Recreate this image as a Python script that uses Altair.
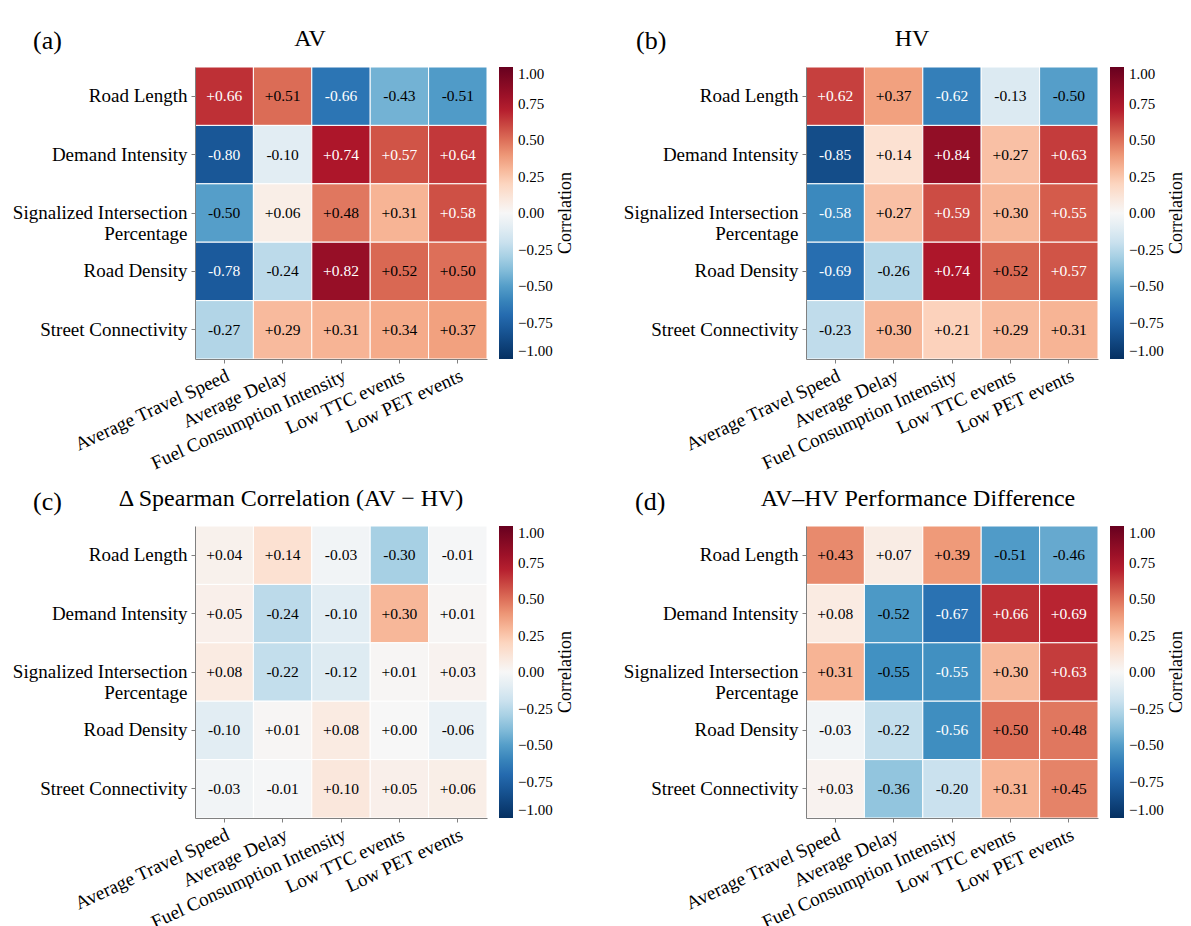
import altair as alt
import pandas as pd

FONT = "Liberation Serif"

# Row (network feature) and column (performance metric) labels
rows = [
    "Road Length",
    "Demand Intensity",
    "Signalized Intersection\nPercentage",
    "Road Density",
    "Street Connectivity",
]
cols = [
    "Average Travel Speed",
    "Average Delay",
    "Fuel Consumption Intensity",
    "Low TTC events",
    "Low PET events",
]

# Spearman correlations, one list per row
av_corr = [
    [0.66, 0.51, -0.66, -0.43, -0.51],
    [-0.80, -0.10, 0.74, 0.57, 0.64],
    [-0.50, 0.06, 0.48, 0.31, 0.58],
    [-0.78, -0.24, 0.82, 0.52, 0.50],
    [-0.27, 0.29, 0.31, 0.34, 0.37],
]
hv_corr = [
    [0.62, 0.37, -0.62, -0.13, -0.50],
    [-0.85, 0.14, 0.84, 0.27, 0.63],
    [-0.58, 0.27, 0.59, 0.30, 0.552],
    [-0.69, -0.26, 0.74, 0.52, 0.57],
    [-0.23, 0.30, 0.21, 0.29, 0.31],
]
delta_corr = [
    [0.04, 0.14, -0.03, -0.30, -0.01],
    [0.05, -0.24, -0.10, 0.30, 0.01],
    [0.08, -0.22, -0.12, 0.01, 0.03],
    [-0.10, 0.01, 0.08, 0.00, -0.06],
    [-0.03, -0.01, 0.10, 0.05, 0.06],
]
perf_diff = [
    [0.43, 0.07, 0.39, -0.51, -0.46],
    [0.08, -0.52, -0.67, 0.66, 0.69],
    [0.31, -0.548, -0.553, 0.30, 0.63],
    [-0.03, -0.22, -0.56, 0.50, 0.48],
    [0.03, -0.36, -0.20, 0.31, 0.45],
]

legend_ticks = [1.0, 0.75, 0.5, 0.25, 0.0, -0.25, -0.5, -0.75, -1.0]

# Diverging red-blue ramp (blue = negative, red = positive), linear between stops
ramp_stops = [-1.0, -0.72, -0.54, -0.36, -0.18, 0.0, 0.18, 0.36, 0.54, 0.72, 1.0]
ramp_colors = [
    "#053061", "#2166ac", "#4393c3", "#92c5de", "#d1e5f0", "#f7f7f7",
    "#fddbc7", "#f4a582", "#d6604d", "#b2182b", "#67001f",
]

SIZE = 292


def to_frame(matrix):
    records = []
    for r, row_name in enumerate(rows):
        for c, col_name in enumerate(cols):
            v = matrix[r][c]
            records.append({"row": row_name, "col": col_name, "v": v, "label": f"{v:+.2f}"})
    return pd.DataFrame(records)


def label_mark(text, size, x, y, align="center", angle=0, baseline="alphabetic"):
    return alt.Chart(pd.DataFrame({"t": [text]})).mark_text(
        font=FONT, fontSize=size, align=align, baseline=baseline,
        color="black", angle=angle,
    ).encode(x=alt.value(x), y=alt.value(y), text="t:N")


def heatmap(matrix, title, letter, title_x, title_y, letter_x, letter_y):
    df = to_frame(matrix)
    base = alt.Chart(df).encode(
        x=alt.X(
            "col:N",
            sort=cols,
            title=None,
            scale=alt.Scale(paddingInner=0, paddingOuter=0),
            axis=alt.Axis(
                labelAngle=335,
                labelAlign="right",
                labelBaseline="top",
                labelFont=FONT,
                labelFontSize=19,
                labelColor="black",
                labelPadding=3,
                labelLimit=0,
                domainColor="#808080",
                tickColor="#808080",
                tickSize=4,
                grid=False,
            ),
        ),
        y=alt.Y(
            "row:N",
            sort=rows,
            title=None,
            scale=alt.Scale(paddingInner=0, paddingOuter=0),
            axis=alt.Axis(
                labelExpr="split(datum.label, '\\n')",
                labelFont=FONT,
                labelFontSize=19,
                labelColor="black",
                labelLineHeight=21,
                labelPadding=4,
                labelLimit=0,
                domainColor="#808080",
                tickColor="#808080",
                tickSize=4,
                grid=False,
            ),
        ),
    )
    cells = base.mark_rect(stroke="white", strokeWidth=1).encode(
        color=alt.Color(
            "v:Q",
            scale=alt.Scale(domain=ramp_stops, range=ramp_colors, interpolate="rgb"),
            legend=alt.Legend(
                title=None,
                orient="right",
                direction="vertical",
                gradientLength=SIZE,
                gradientThickness=14,
                gradientStrokeWidth=0,
                offset=12,
                values=legend_ticks,
                format=".2f",
                labelFont=FONT,
                labelFontSize=15,
                labelColor="black",
                labelOverlap=False,
                labelOffset=5,
            ),
        )
    )
    values = base.mark_text(font=FONT, fontSize=15.5).encode(
        text="label:N",
        color=alt.condition("abs(datum.v) > 0.55", alt.value("white"), alt.value("black")),
    )
    return alt.layer(
        cells,
        values,
        label_mark(title, 24, title_x, title_y),
        label_mark(letter, 26, letter_x, letter_y, align="left"),
        label_mark("Correlation", 18, SIZE + 79, SIZE / 2, angle=270, baseline="middle"),
    ).properties(width=SIZE, height=SIZE)


top = alt.hconcat(
    heatmap(av_corr, "AV", "(a)", 115, -21, -162, -18),
    heatmap(hv_corr, "HV", "(b)", 106, -21, -170, -18),
    spacing=46,
).resolve_scale(color="independent").resolve_legend(color="independent")
bottom = alt.hconcat(
    heatmap(delta_corr, "Δ Spearman Correlation (AV − HV)", "(c)", 96, -20, -162, -16),
    heatmap(perf_diff, "AV–HV Performance Difference", "(d)", 112, -20, -171, -16),
    spacing=46,
).resolve_scale(color="independent").resolve_legend(color="independent")

chart = (
    alt.vconcat(top, bottom, spacing=12)
    .resolve_scale(color="independent")
    .resolve_legend(color="independent")
    .properties(padding={"top": 26, "left": 11, "right": 2, "bottom": 2}, background="white")
    .configure_view(stroke="transparent")
)

chart.save("out.html", embed_options={"renderer": "svg", "actions": False})
